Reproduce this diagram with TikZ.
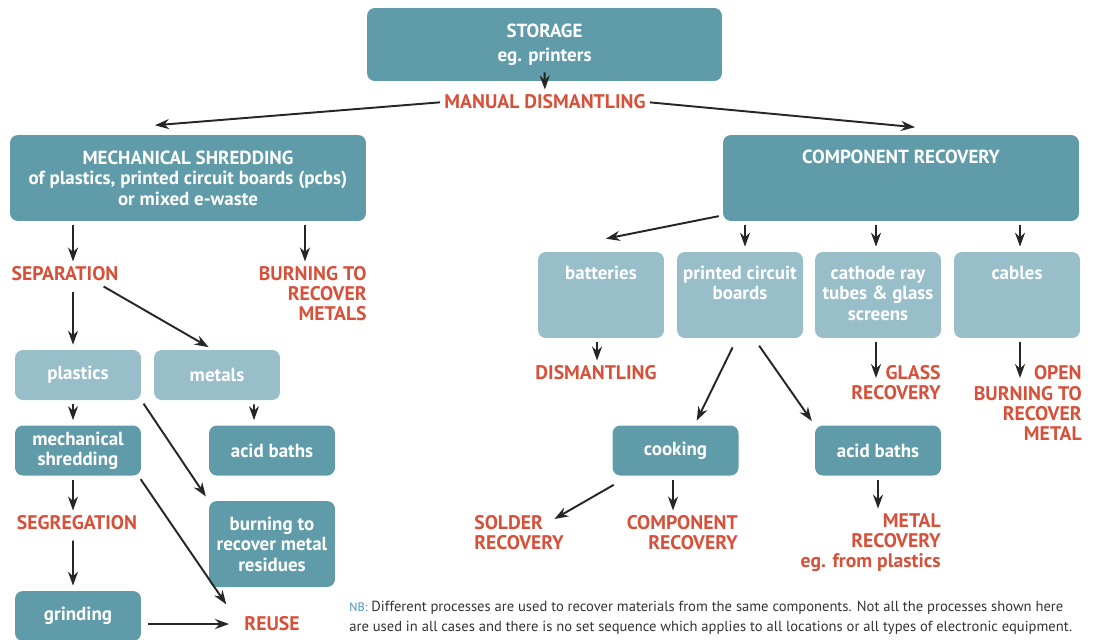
\documentclass[tikz,border=0pt]{standalone}
\usepackage{fontspec}
\setmainfont{PT Sans}
\usetikzlibrary{arrows.meta, positioning, calc}
\definecolor{tealdark}{RGB}{95,155,168}
\definecolor{teallight}{RGB}{151,190,201}
\definecolor{stagered}{RGB}{214,80,58}
\definecolor{nbblue}{RGB}{74,143,176}

\begin{document}
\begin{tikzpicture}[
    x=0.02cm, y=-0.02cm,
    box/.style={rounded corners=4.5pt, text=white, font=\bfseries\fontsize{10.8}{11.6}\selectfont, align=center, inner sep=2pt},
    darkbox/.style={box, fill=tealdark},
    lightbox/.style={box, fill=teallight},
    small/.style={minimum width=2.52cm, minimum height=1cm},
    tall/.style={minimum width=2.52cm, minimum height=1.72cm},
    wide/.style={minimum width=7.12cm, minimum height=1.72cm},
    boxlabel/.style={text=white, font=\bfseries\fontsize{10.8}{11.6}\selectfont, align=center, inner sep=0pt},
    stage/.style={text=stagered, font=\bfseries\fontsize{11.2}{11.4}\selectfont, inner sep=0pt},
    note/.style={text=black!80, font=\fontsize{8.3}{11.2}\selectfont, inner sep=0pt, align=left},
    arrow/.style={-{Stealth[length=2.8mm, width=2mm]}, line width=1.1pt, black!85, shorten <=0.08cm, shorten >=0.1cm}
]
\useasboundingbox (0,0) rectangle (1094,639);

% top of the chain
\node[darkbox, minimum width=7.1cm, minimum height=1.46cm] (storage) at (544.5,44.5) {STORAGE\\[2pt]eg. printers};
\node[stage] (manual) at (545,102) {MANUAL DISMANTLING};
\node[darkbox, wide] (mech) at (188,178) {MECHANICAL SHREDDING\\of plastics, printed circuit boards (pcbs)\\or mixed e-waste};
\node[darkbox, wide] (comp) at (901,178) {};
\node[boxlabel, below=0.3cm of comp.north] (comptext) {COMPONENT RECOVERY};

% left branch
\node[stage] (sep) at (65,274) {SEPARATION};
\node[stage, align=right, anchor=east] (burnmet) at (367,294) {BURNING TO\\RECOVER\\METALS};
\node[lightbox, small] (plastics) at (78,375) {plastics};
\node[lightbox, small] (metals) at (217,375) {metals};
\node[darkbox, small] (mshred) at (78,450.5) {mechanical\\shredding};
\node[darkbox, small] (acid) at (272,450.5) {acid baths};
\node[darkbox, tall] (burnres) at (272,544) {burning to\\recover metal\\residues};
\node[stage] (seg) at (77,523) {SEGREGATION};
\node[darkbox, small] (grind) at (78,616) {grinding};
\node[stage] (reuse) at (272,624) {REUSE};

% right branch
\node[lightbox, tall] (batt) at (601,295) {};
\node[boxlabel, below=0.28cm of batt.north] (batttext) {batteries};
\node[lightbox, tall] (pcb) at (740,295) {};
\node[boxlabel, below=0.28cm of pcb.north] (pcbtext) {printed circuit\\boards};
\node[lightbox, tall] (crt) at (878,295) {};
\node[boxlabel, below=0.28cm of crt.north] (crttext) {cathode ray\\tubes \& glass\\screens};
\node[lightbox, tall] (cables) at (1017,295) {};
\node[boxlabel, below=0.28cm of cables.north] (cabletext) {cables};
\node[stage] (dism) at (596,373) {DISMANTLING};
\node[stage, align=right, anchor=east] (glass) at (941,383) {GLASS\\RECOVERY};
\node[stage, align=right, anchor=east] (openburn) at (1082,403) {OPEN\\BURNING TO\\RECOVER\\METAL};
\node[darkbox, small] (cook) at (675.5,450.5) {cooking};
\node[darkbox, small] (acidpcb) at (878,450.5) {acid baths};
\node[stage, align=left, anchor=west] (solder) at (474,533) {SOLDER\\RECOVERY};
\node[stage, align=right, anchor=east] (comprec) at (738,533) {COMPONENT\\RECOVERY};
\node[stage, align=right, anchor=east] (metalrec) at (941,543) {METAL\\RECOVERY\\eg. from plastics};

\node[note, anchor=west] (nb) at (349,618) {{\color{nbblue}\fontsize{7}{8}\selectfont NB:} Different processes are used to recover materials from the same components. Not all the processes shown here\\are used in all cases and there is no set sequence which applies to all locations or all types of electronic equipment.};

% arrows
\draw[arrow] ([yshift=0.26cm]storage.south) -- (manual.north);
\draw[arrow] (manual.west) -- ([xshift=-0.76cm,yshift=0.18cm]mech.north);
\draw[arrow] (manual.east) -- ([xshift=0.38cm,yshift=0.14cm]comp.north);

\draw[arrow] ([xshift=-2.3cm]mech.south) -- ([xshift=-2.3cm]mech.south |- sep.north);
\draw[arrow] ([xshift=2.34cm]mech.south) -- ([xshift=2.34cm]mech.south |- burnmet.north);
\draw[arrow, shorten <=0.2cm] ([xshift=-0.1cm]plastics.north |- sep.south) -- ([xshift=-0.1cm]plastics.north);
\draw[arrow, shorten <=0.2cm] ([xshift=0.6cm]sep.south) -- ([xshift=-0.08cm]metals.north);
\draw[arrow] ([xshift=-0.1cm]plastics.south) -- ([xshift=-0.1cm]mshred.north);
\draw[arrow] ([xshift=0.74cm]metals.south) -- ([xshift=-0.36cm]acid.north);
\draw[arrow] (plastics.south east) -- (burnres.north west);
\draw[arrow] ([xshift=-0.1cm]mshred.south) -- ([xshift=-0.1cm]mshred.south |- seg.north);
\draw[arrow] ([xshift=-0.06cm]mshred.south east) -- ([xshift=-0.3cm,yshift=0.16cm]reuse.north west);
\draw[arrow, shorten <=0.2cm] ([xshift=-0.08cm]seg.south) -- ([xshift=-0.1cm]grind.north);
\draw[arrow, shorten <=0.14cm, shorten >=0.3cm] (reuse.west -| grind.east) -- (reuse.west);

\draw[arrow] ([yshift=0.12cm]comp.south west) -- ([yshift=0.24cm]batt.north);
\draw[arrow] ([xshift=0.1cm]pcb.north |- comp.south) -- ([xshift=0.1cm]pcb.north);
\draw[arrow] ([xshift=-0.04cm]crt.north |- comp.south) -- ([xshift=-0.04cm]crt.north);
\draw[arrow] ([xshift=0.06cm]cables.north |- comp.south) -- ([xshift=0.06cm]cables.north);
\draw[arrow] ([xshift=-0.08cm]batt.south) -- ([xshift=-0.08cm]batt.south |- dism.north);
\draw[arrow, shorten <=0.2cm] ([xshift=-0.06cm]pcb.south) -- ([xshift=0.38cm]cook.north);
\draw[arrow, shorten <=0.18cm] ([xshift=0.28cm]pcb.south) -- (acidpcb.north west);
\draw[arrow] ([xshift=-0.04cm]crt.south) -- ([xshift=-0.04cm]crt.south |- glass.center);
\draw[arrow] ([xshift=0.06cm]cables.south) -- ([xshift=0.06cm]cables.south |- glass.center);
\draw[arrow] ([xshift=-0.05cm]cook.south) -- ([xshift=-0.05cm]cook.south |- comprec.north);
\draw[arrow] ([xshift=0.1cm,yshift=-0.14cm]cook.south west) -- ([xshift=-0.28cm,yshift=-0.12cm]solder.north east);
\draw[arrow] (acidpcb.south) -- (acidpcb.south |- metalrec.north);
\end{tikzpicture}
\end{document}
